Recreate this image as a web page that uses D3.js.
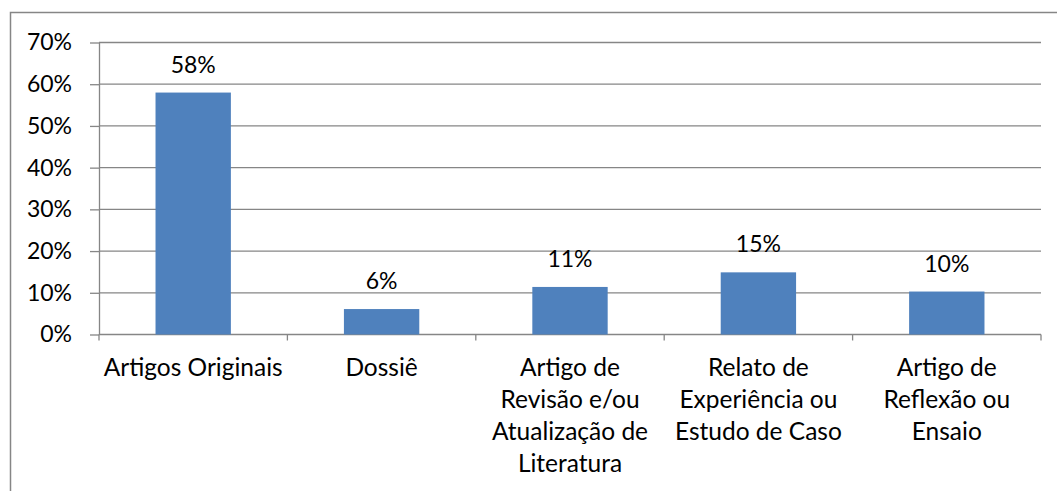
<!DOCTYPE html>
<html>
<head>
<meta charset="utf-8">
<script src="https://cdn.jsdelivr.net/npm/d3@7"></script>
<style>
  body { margin: 0; background: #fff; }
  svg { display: block; font-family: Lato, "Open Sans", sans-serif; }
</style>
</head>
<body>
<div id="chart"></div>
<script>
const categories = [
  "Artigos Originais",
  "Dossiê",
  "Artigo de\nRevisão e/ou\nAtualização de\nLiteratura",
  "Relato de\nExperiência ou\nEstudo de Caso",
  "Artigo de\nReflexão ou\nEnsaio"
];
const values = [0.58, 0.061, 0.114, 0.149, 0.103];
const valueLabels = ["58%", "6%", "11%", "15%", "10%"];
const yTicks = [0, 0.1, 0.2, 0.3, 0.4, 0.5, 0.6, 0.7];

const width = 1057, height = 491;
const plot = { left: 99, right: 1041, top: 42.5, bottom: 334.5 };
const grey = "#868686";
const barColor = "#4F81BD";

const svg = d3.select("#chart").append("svg")
  .attr("width", width)
  .attr("height", height);

// cadre du graphique (coupé à droite et en bas)
svg.append("rect")
  .attr("x", 10.5).attr("y", 12.5)
  .attr("width", 1100).attr("height", 600)
  .attr("fill", "#fff")
  .attr("stroke", grey)
  .attr("stroke-width", 1.5);

const x = d3.scaleBand()
  .domain(categories)
  .range([plot.left, plot.right])
  .paddingInner(0.6)
  .paddingOuter(0.3);

const y = d3.scaleLinear()
  .domain([0, 0.7])
  .range([plot.bottom, plot.top]);

// lignes de grille
svg.append("g")
  .selectAll("line")
  .data(yTicks.filter(d => d > 0))
  .enter()
  .append("line")
  .attr("x1", plot.left).attr("x2", plot.right)
  .attr("y1", d => y(d)).attr("y2", d => y(d))
  .attr("stroke", grey)
  .attr("stroke-width", 1.3);

// Axe Y
const yAxis = svg.append("g")
  .attr("transform", `translate(${plot.left},0)`)
  .call(d3.axisLeft(y).tickValues(yTicks).tickFormat(d3.format(".0%"))
    .tickSize(9).tickPadding(18).tickSizeOuter(0));
yAxis.select(".domain").attr("stroke", grey).attr("stroke-width", 1.3);
yAxis.selectAll(".tick line").attr("stroke", grey).attr("stroke-width", 1.3);
yAxis.selectAll("text")
  .style("font-family", "Lato, sans-serif")
  .style("font-size", "23px")
  .attr("fill", "#000");

// Axe X (ligne + graduations entre catégories)
svg.append("line")
  .attr("x1", plot.left).attr("x2", plot.right)
  .attr("y1", y(0)).attr("y2", y(0))
  .attr("stroke", grey).attr("stroke-width", 1.3);

const bounds = d3.range(categories.length + 1).map(i => plot.left + i * x.step());
svg.append("g")
  .selectAll("line")
  .data(bounds)
  .enter()
  .append("line")
  .attr("x1", d => d).attr("x2", d => d)
  .attr("y1", y(0)).attr("y2", y(0) + 6)
  .attr("stroke", grey).attr("stroke-width", 1.3);

// Barres
svg.append("g")
  .selectAll("rect")
  .data(categories)
  .enter()
  .append("rect")
  .attr("x", d => x(d))
  .attr("y", (d, i) => y(values[i]))
  .attr("width", x.bandwidth())
  .attr("height", (d, i) => y(0) - y(values[i]))
  .attr("fill", barColor);

// Étiquettes de valeur
svg.append("g")
  .selectAll("text")
  .data(categories)
  .enter()
  .append("text")
  .attr("x", d => x(d) + x.bandwidth() / 2)
  .attr("y", (d, i) => y(values[i]) - 20)
  .attr("text-anchor", "middle")
  .style("font-size", "23px")
  .text((d, i) => valueLabels[i]);

// Libellés des catégories
const catLabels = svg.append("g")
  .selectAll("text")
  .data(categories)
  .enter()
  .append("text")
  .attr("x", d => x(d) + x.bandwidth() / 2)
  .attr("y", 376)
  .attr("text-anchor", "middle")
  .style("font-size", "24.5px");

catLabels.selectAll("tspan")
  .data(d => d.split("\n"))
  .enter()
  .append("tspan")
  .attr("x", function () { return this.parentNode.getAttribute("x"); })
  .attr("dy", (d, i) => i === 0 ? 0 : 32)
  .text(d => d);
</script>
</body>
</html>
